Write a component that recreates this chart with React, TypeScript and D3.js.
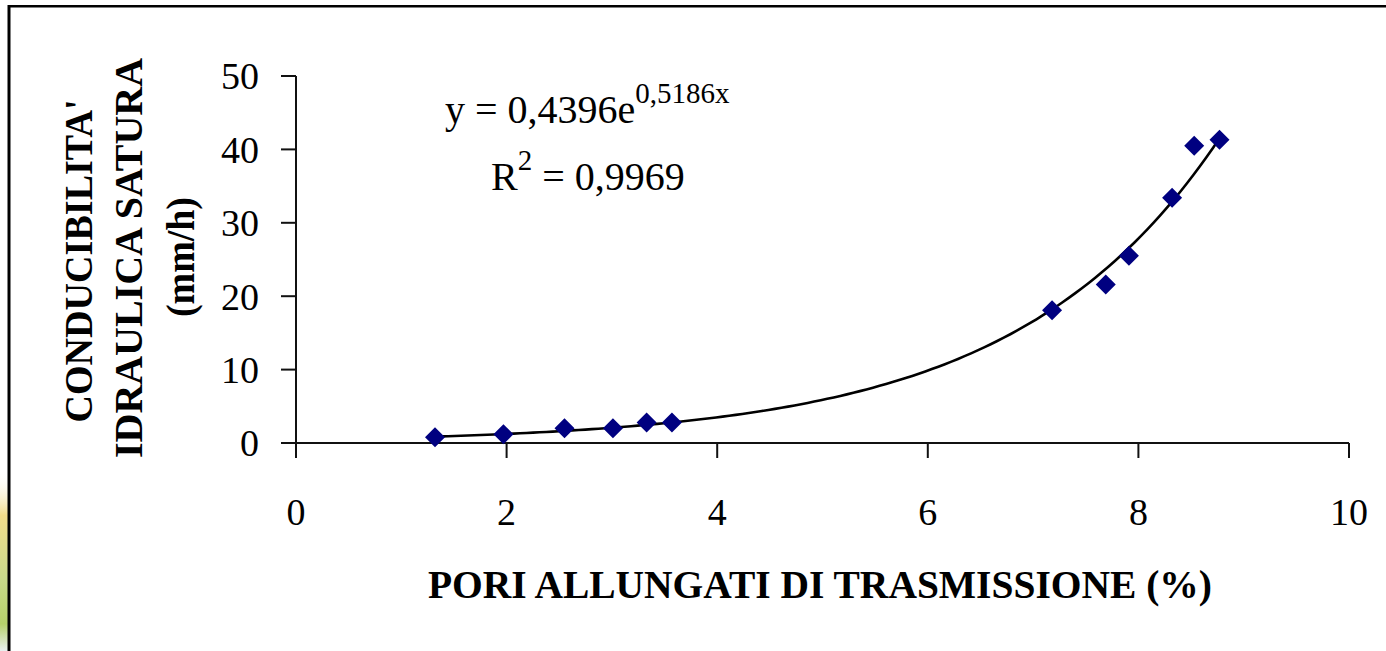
import React from "react";
import * as d3 from "d3";

// ---- data ----
const poriX: number[] = [1.32, 1.97, 2.55, 3.01, 3.33, 3.57, 7.18, 7.69, 7.91, 8.32, 8.53, 8.77];
const conducY: number[] = [0.8, 1.2, 2.0, 2.0, 2.8, 2.8, 18.1, 21.6, 25.5, 33.4, 40.5, 41.3];
const xTicks: number[] = [0, 2, 4, 6, 8, 10];
const yTicks: number[] = [0, 10, 20, 30, 40, 50];
const trendA = 0.4396;
const trendB = 0.5186;
const eqMain = "y = 0,4396e";
const eqExp = "0,5186x";
const r2Label = "R";
const r2Sup = "2";
const r2Value = " = 0,9969";
const xTitle = "PORI ALLUNGATI DI TRASMISSIONE (%)";
const yTitleLines: string[] = ["CONDUCIBILITA'", "IDRAULICA SATURA", "(mm/h)"];

const W = 1386;
const H = 651;
const FONT = "'Liberation Serif', 'Times New Roman', serif";

export default function App() {
  const x = d3.scaleLinear().domain([0, 10]).range([296, 1349]);
  const y = d3.scaleLinear().domain([0, 50]).range([443, 76]);

  const xmin = d3.min(poriX) as number;
  const xmax = d3.max(poriX) as number;
  const samples = d3.range(0, 121).map((i) => xmin + ((xmax - xmin) * i) / 120);
  const trend = d3
    .line<number>()
    .x((v) => x(v))
    .y((v) => y(trendA * Math.exp(trendB * v)));

  const diamond = d3.symbol().type(d3.symbolSquare).size(200)() as string;
  const yTitleX = [92, 142, 194];
  const yTitleMid = [261, 258, 257];
  const yTitleLen = [323, 400, 120];

  return (
    <svg
      width={W}
      height={H}
      style={{ position: "absolute", left: 0, top: 0, background: "#fff" }}
      fontFamily={FONT}
    >
      <defs>
        <linearGradient id="deco" x1="0" y1="0" x2="0" y2="1">
          <stop offset="0" stopColor="#fff" stopOpacity="0" />
          <stop offset="0.25" stopColor="#f2dc8a" />
          <stop offset="0.6" stopColor="#c9da8a" />
          <stop offset="0.85" stopColor="#b5d06a" />
          <stop offset="1" stopColor="#e8f0f0" />
        </linearGradient>
      </defs>
      <rect x={0} y={0} width={W} height={H} fill="#fff" />
      <rect x={0} y={470} width={8} height={181} fill="url(#deco)" />
      {/* frame */}
      <line x1={9} y1={6.2} x2={W} y2={6.2} stroke="#000" strokeWidth={2.6} />
      <line x1={9} y1={5} x2={9} y2={H} stroke="#000" strokeWidth={3} />

      {/* axes */}
      <g stroke="#111" strokeWidth={2}>
        <line x1={x(0)} y1={y(0)} x2={x(10)} y2={y(0)} />
        <line x1={x(0)} y1={y(0)} x2={x(0)} y2={y(50)} />
        {yTicks.map((t) => (
          <line key={"yt" + t} x1={x(0) - 15} x2={x(0)} y1={y(t)} y2={y(t)} />
        ))}
        {xTicks.map((t) => (
          <line key={"xt" + t} x1={x(t)} x2={x(t)} y1={y(0)} y2={y(0) + 15} />
        ))}
      </g>
      <g fontSize={38} fill="#000">
        {yTicks.map((t) => (
          <text key={"yl" + t} x={259} y={y(t)} dy="0.35em" textAnchor="end">
            {t}
          </text>
        ))}
        {xTicks.map((t) => (
          <text key={"xl" + t} x={x(t)} y={525} textAnchor="middle">
            {t}
          </text>
        ))}
      </g>

      {/* trendline */}
      <path d={trend(samples) as string} fill="none" stroke="#000" strokeWidth={2.6} />

      {/* points */}
      <g fill="#000080">
        {poriX.map((v, i) => (
          <path
            key={"p" + i}
            d={diamond}
            transform={`translate(${x(v)},${y(conducY[i])}) rotate(45)`}
          />
        ))}
      </g>

      {/* equation */}
      <text x={445} y={123} fontSize={40} fill="#000">
        {eqMain}
        <tspan fontSize={29} dy={-20}>
          {eqExp}
        </tspan>
      </text>
      <text x={491} y={190} fontSize={40} fill="#000">
        {r2Label}
        <tspan fontSize={29} dy={-20}>
          {r2Sup}
        </tspan>
        <tspan dy={20}>{r2Value}</tspan>
      </text>

      {/* axis titles */}
      <text
        x={820}
        y={598}
        fontSize={39}
        fontWeight="bold"
        textAnchor="middle"
        fill="#000"
        textLength={784}
        lengthAdjust="spacingAndGlyphs"
      >
        {xTitle}
      </text>
      {yTitleLines.map((s, i) => (
        <text
          key={"yt" + i}
          transform={`translate(${yTitleX[i]},${yTitleMid[i]}) rotate(-90)`}
          fontSize={39}
          fontWeight="bold"
          textAnchor="middle"
          fill="#000"
          textLength={yTitleLen[i]}
          lengthAdjust="spacingAndGlyphs"
        >
          {s}
        </text>
      ))}
    </svg>
  );
}
